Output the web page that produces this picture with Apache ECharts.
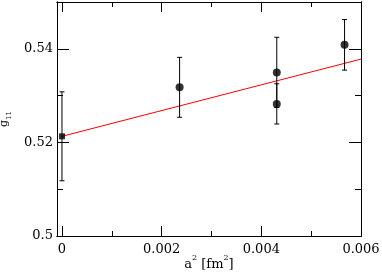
<!DOCTYPE html>
<html>
<head>
<meta charset="utf-8">
<script src="https://cdn.jsdelivr.net/npm/echarts@6/dist/echarts.min.js"></script>
<style>html,body{margin:0;padding:0;background:#fff;}#c{width:382px;height:273px;}</style>
</head>
<body>
<div id="c"></div>
<script>
// ---- data ----
const xMajorTicks = [0, 0.002, 0.004, 0.006];
const xMinorTicks = [0.001, 0.003, 0.005];
const yMajorTicks = [0.5, 0.52, 0.54];
const yMinorTicks = [0.51, 0.53];

const measX = [0.00236, 0.00431, 0.00431, 0.00567];
const measY = [0.53177, 0.53496, 0.52823, 0.54085];
const measErr = [0.0064, 0.0075, 0.0043, 0.0054];

const extrapX = [0];
const extrapY = [0.5213];
const extrapErr = [0.0095];

const fitX = [0, 0.006];
const fitY = [0.5213, 0.5378];

const FONT = 'DejaVu Serif';

const measData = measX.map((x, i) => [x, measY[i]]);
const measErrData = measX.map((x, i) => [x, measY[i], measY[i] - measErr[i], measY[i] + measErr[i]]);
const extrapData = extrapX.map((x, i) => [x, extrapY[i]]);
const extrapErrData = extrapX.map((x, i) => [x, extrapY[i], extrapY[i] - extrapErr[i], extrapY[i] + extrapErr[i]]);
const fitData = fitX.map((x, i) => [x, fitY[i]]);

function errRender(params, api) {
  const x = api.value(0), lo = api.value(2), hi = api.value(3);
  const pLo = api.coord([x, lo]), pHi = api.coord([x, hi]);
  const w = 2.5;
  const st = { stroke: '#000', lineWidth: 1 };
  return {
    type: 'group',
    children: [
      { type: 'line', shape: { x1: pLo[0], y1: pLo[1], x2: pHi[0], y2: pHi[1] }, style: st },
      { type: 'line', shape: { x1: pLo[0] - w, y1: pLo[1], x2: pLo[0] + w, y2: pLo[1] }, style: st },
      { type: 'line', shape: { x1: pHi[0] - w, y1: pHi[1], x2: pHi[0] + w, y2: pHi[1] }, style: st }
    ]
  };
}

const XMIN = -0.0001, XMAX = 0.006, YMIN = 0.5, YMAX = 0.55;
const lineStyle = { color: '#000', width: 1 };

function xAx(pos, ticks, len, withLabel) {
  const a = {
    type: 'value', position: pos, min: XMIN, max: XMAX, gridIndex: 0,
    axisLine: { show: true, onZero: false, lineStyle: lineStyle },
    axisTick: { show: true, inside: true, length: len, customValues: ticks, lineStyle: { color: '#000', width: 1 } },
    axisLabel: { show: false },
    splitLine: { show: false }
  };
  if (withLabel) {
    a.axisLabel = { show: true, customValues: ticks, margin: 7, color: '#000', fontFamily: FONT, fontSize: 13 };
    a.name = '{n|a}{s|2}{n| [fm}{s|2}{n|]}';
    a.nameLocation = 'middle';
    a.nameGap = 18;
    a.nameMoveOverlap = false;
    a.nameTextStyle = {
      color: '#000',
      rich: {
        n: { fontFamily: FONT, fontSize: 13, color: '#000', lineHeight: 17, verticalAlign: 'bottom' },
        s: { fontFamily: FONT, fontSize: 8, color: '#000', lineHeight: 17, verticalAlign: 'top' }
      }
    };
  }
  return a;
}
function yAx(pos, ticks, len, withLabel) {
  const a = {
    type: 'value', position: pos, min: YMIN, max: YMAX, gridIndex: 0,
    axisLine: { show: true, onZero: false, lineStyle: lineStyle },
    axisTick: { show: true, inside: true, length: len, customValues: ticks, lineStyle: { color: '#000', width: 1 } },
    axisLabel: { show: false },
    splitLine: { show: false }
  };
  if (withLabel) {
    a.axisLabel = { show: true, customValues: ticks, margin: 4, color: '#000', fontFamily: FONT, fontSize: 13 };
    a.name = '{g|g}{s|11}';
    a.nameLocation = 'middle';
    a.nameGap = 44;
    a.nameRotate = 90;
    a.nameMoveOverlap = false;
    a.nameTextStyle = {
      color: '#000',
      rich: {
        g: { fontFamily: FONT, fontSize: 11, color: '#000', lineHeight: 14, verticalAlign: 'top' },
        s: { fontFamily: FONT, fontSize: 7, color: '#000', lineHeight: 14, verticalAlign: 'bottom' }
      }
    };
  }
  return a;
}

const chart = echarts.init(document.getElementById('c'), null, { renderer: 'canvas' });
chart.setOption({
  animation: false,
  backgroundColor: '#fff',
  grid: { left: 57, top: 2, right: 21, bottom: 37, containLabel: false, outerBoundsMode: 'none' },
  xAxis: [
    xAx('bottom', xMajorTicks, 10, true),
    xAx('bottom', xMinorTicks, 5, false),
    xAx('top', xMajorTicks, 10, false),
    xAx('top', xMinorTicks, 5, false)
  ],
  yAxis: [
    yAx('left', yMajorTicks, 12, true),
    yAx('left', yMinorTicks, 6, false),
    yAx('right', yMajorTicks, 12, false),
    yAx('right', yMinorTicks, 6, false)
  ],
  series: [
    { type: 'line', data: fitData, xAxisIndex: 0, yAxisIndex: 0, symbol: 'none',
      lineStyle: { color: '#ff0000', width: 1 }, z: 2, silent: true },
    { type: 'custom', data: extrapErrData, xAxisIndex: 0, yAxisIndex: 0, renderItem: errRender,
      encode: { x: 0, y: 1 }, z: 3, silent: true },
    { type: 'custom', data: measErrData, xAxisIndex: 0, yAxisIndex: 0, renderItem: errRender,
      encode: { x: 0, y: 1 }, z: 3, silent: true },
    { type: 'scatter', data: extrapData, xAxisIndex: 0, yAxisIndex: 0, symbol: 'rect', symbolSize: 6,
      itemStyle: { color: '#000' }, z: 4, silent: true },
    { type: 'scatter', data: measData, xAxisIndex: 0, yAxisIndex: 0, symbol: 'circle', symbolSize: 8,
      itemStyle: { color: '#000' }, z: 4, silent: true }
  ]
});
</script>
</body>
</html>
